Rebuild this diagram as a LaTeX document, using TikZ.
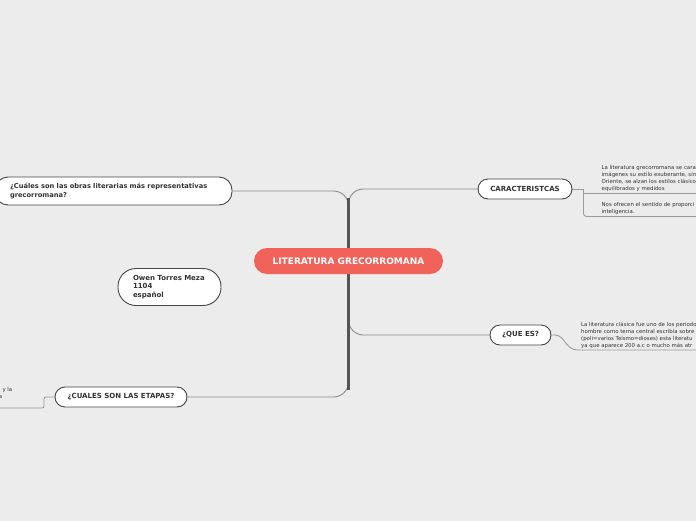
\documentclass[tikz,border=0pt]{standalone}
\usepackage{fontspec}
\setmainfont{DejaVu Sans}
\usetikzlibrary{backgrounds}
\definecolor{bg}{HTML}{ECECEC}
\definecolor{rootred}{HTML}{F0625A}
\definecolor{txt}{HTML}{333333}
\definecolor{bord}{HTML}{454545}
\definecolor{leafline}{HTML}{9C9C9C}
\definecolor{branchline}{HTML}{8A8A8A}
\definecolor{trunkc}{HTML}{555555}
\tikzset{
  topic/.style={draw=bord, line width=0.9pt, fill=white, text=txt,
    font=\fontsize{7}{8.5}\selectfont\bfseries, inner sep=0pt, align=center},
  rootnode/.style={fill=rootred, text=white, rounded corners=13pt,
    minimum width=189pt, minimum height=26pt, inner sep=0pt,
    font=\fontsize{9}{11}\selectfont\bfseries},
  leaftext/.style={text=txt, font=\fontsize{5.4}{7}\selectfont, align=left, inner sep=0pt},
  branch/.style={draw=branchline, line width=0.9pt, rounded corners=15pt},
  trunk/.style={draw=trunkc, line width=2.6pt},
  leafconn/.style={draw=leafline, line width=0.9pt},
}
\begin{document}
\begin{tikzpicture}[x=1pt,y=-1pt]
\useasboundingbox (0,0) rectangle (696,520);
% nodes
\node[rootnode] (root) at (348.5,261) {LITERATURA GRECORROMANA};
\node[topic, rounded corners=10pt, minimum width=94pt, minimum height=20pt] (car) at (525,189) {CARACTERISTCAS};
\node[topic, rounded corners=10pt, minimum width=61pt, minimum height=20pt] (que) at (520.5,335) {¿QUE ES?};
\node[topic, rounded corners=10pt, minimum width=132pt, minimum height=20pt] (eta) at (121,397) {¿CUALES SON LAS ETAPAS?};
\node[topic, rounded corners=13pt, minimum width=237pt, minimum height=28pt, text width=207pt, inner xsep=15pt, align=left, font=\fontsize{6.7}{8.5}\selectfont\bfseries] (obr) at (113.5,191) {¿Cuáles son las obras literarias más representativas\\grecorromana?};
\node[topic, rounded corners=18pt, minimum width=103pt, minimum height=37pt, text width=73pt, inner xsep=15pt, align=left, font=\fontsize{7}{8.5}\selectfont\bfseries] (owen) at (169.5,287) {Owen Torres Meza\\1104\\español};
% leaf texts
\node[leaftext, anchor=north west] (t1) at (601.5,165) {La literatura grecorromana se cara\\imágenes su estilo exuberante, sin\\Oriente, se alzan los estilos clásicos\\equilibrados y medidos};
\node[leaftext, anchor=north west] (t2) at (601.5,202) {Nos ofrecen el sentido de proporci\\inteligencia.};
\node[leaftext, anchor=north west] (t3) at (581,322) {La literatura clásica fue uno de los periodo\\hombre como tema central escribía sobre\\(poli=varios Teísmo=dioses) esta literatu\\ya que aparece 200 a.c o mucho más atr};
\node[leaftext, anchor=north east, align=right] (t4) at (12.5,387) {y la\\a\kern10pt};
% coordinates
\coordinate (ttop) at (348.5,198);
\coordinate (tbot) at (348.5,390);
\coordinate (c1) at (583.5,189);
\coordinate (e1) at (700,193);
\coordinate (e2) at (700,216.5);
\coordinate (q1) at (700,350);
\coordinate (k1) at (44,397);
\coordinate (k2) at (-4,408);
\begin{scope}[on background layer]
  \fill[bg] (-10,-10) rectangle (706,530);
  \draw[branch] (root.center) |- (car.west);
  \draw[branch] (root.center) |- (que.west);
  \draw[branch] (root.center) |- (obr.east);
  \draw[branch] (root.center) |- (eta.east);
  \draw[trunk] (ttop) -- (tbot);
  \draw[leafconn] (car.east) -- (c1) -- (583.5,193) -- (e1);
  \draw[leafconn, rounded corners=3pt] (c1) |- (e2);
  \draw[leafconn] (que.east) -- (555,335) .. controls (565,335) and (565,350) .. (578,350) -- (q1);
  \draw[leafconn, rounded corners=2pt] (eta.west) -- (k1) |- (k2);
\end{scope}
\end{tikzpicture}
\end{document}
